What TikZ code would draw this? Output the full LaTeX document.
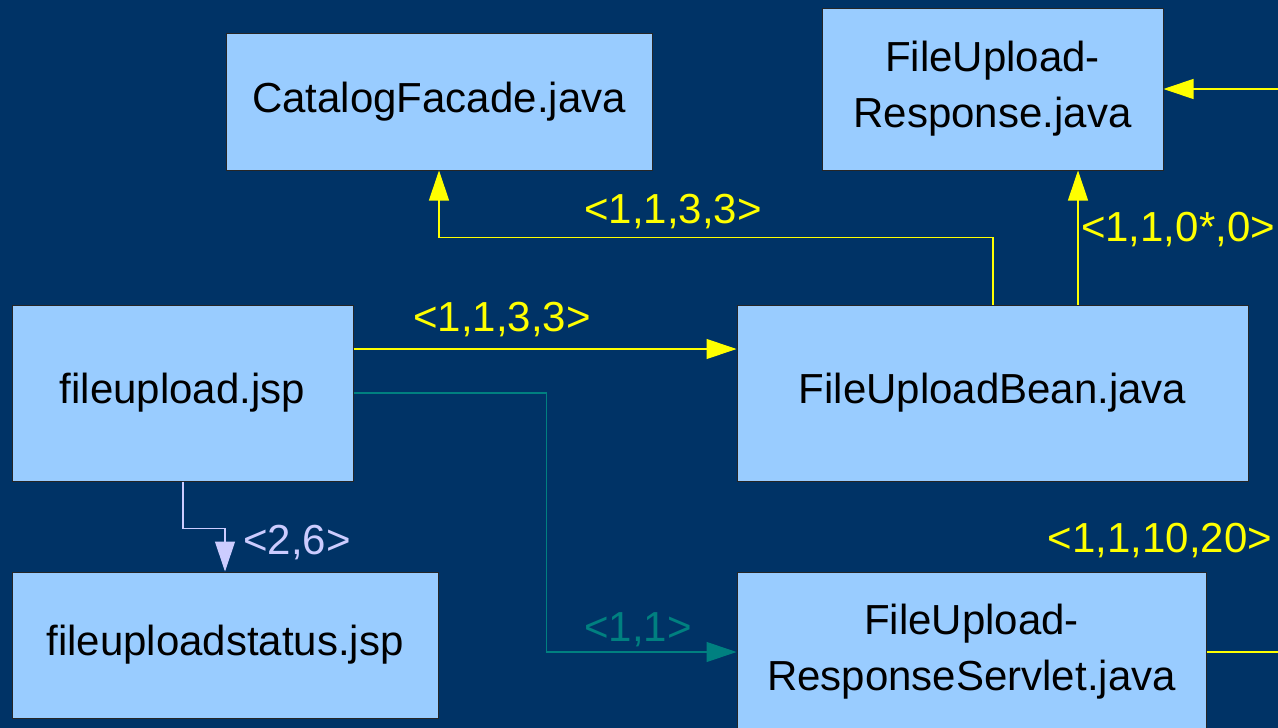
\documentclass[tikz,border=0pt]{standalone}
\usepackage{fontspec}
\setmainfont{Liberation Sans}
\usetikzlibrary{arrows.meta}
\definecolor{bg}{HTML}{003366}
\definecolor{boxfill}{HTML}{99CCFF}
\definecolor{yel}{HTML}{FFFF00}
\definecolor{lav}{HTML}{CCCCFF}
\definecolor{tealc}{HTML}{008080}
\begin{document}
\begin{tikzpicture}[x=1pt,y=-1pt,
  box/.style={draw=black!85, fill=boxfill, line width=1pt, inner sep=0pt,
    align=center, font=\fontsize{42}{56}\selectfont},
  lbl/.style={font=\fontsize{42}{50}\selectfont, inner sep=0pt},
  tip/.style={line width=1.1pt, -{Triangle[length=30pt,width=20pt]}}]
\useasboundingbox (0,0) rectangle (1278,728);
\fill[bg] (0,0) rectangle (1278,728);
\clip (0,0) rectangle (1278,728);

% components
\node[box, minimum width=426pt, minimum height=137pt] (cat) at (439,101.5) {\raisebox{-3pt}{CatalogFacade.java}};
\node[box, minimum width=341pt, minimum height=162pt] (resp) at (992.5,89) {FileUpload-\\Response.java};
\node[box, minimum width=341pt, minimum height=176pt] (jsp) at (182.5,393) {\raisebox{-4pt}{fileupload.jsp}};
\node[box, minimum width=511pt, minimum height=176pt] (bean) at (992.5,393) {\raisebox{-4pt}{FileUploadBean.java}};
\node[box, minimum width=426pt, minimum height=146pt] (status) at (225,645) {\raisebox{-3pt}{fileuploadstatus.jsp}};
\node[box, minimum width=469pt, minimum height=160pt] (servlet) at (971.5,652) {FileUpload-\\ResponseServlet.java};

% dependencies
\draw[tip, yel] ([yshift=44pt]jsp.east) -- ([yshift=44pt]bean.west);
\draw[tip, yel] ([xshift=0.5pt]bean.north) -- ++(0,-67) -| (cat.south);
\draw[tip, yel] ([xshift=85.5pt]bean.north) -- ([xshift=85.5pt]resp.south);
\draw[tip, tealc] (jsp.east) -- ++(193,0) |- (servlet.west);
\draw[tip, lav] ([xshift=0.5pt]jsp.south) -- ++(0,47) -| (status.north);
\draw[tip, yel] (servlet.east) -- ++(100,0) |- (resp.east);

% metrics
\node[lbl, yel] (l1) at (673,212) {<1,1,3,3>};
\node[lbl, yel] (l2) at (502,320) {<1,1,3,3>};
\node[lbl, yel] (l3) at (1178,230) {<1,1,0*,0>};
\node[lbl, yel] (l4) at (1160,541) {<1,1,10,20>};
\node[lbl, lav] (l5) at (297,543) {<2,6>};
\node[lbl, tealc] (l6) at (638,630) {<1,1>};
\end{tikzpicture}
\end{document}
